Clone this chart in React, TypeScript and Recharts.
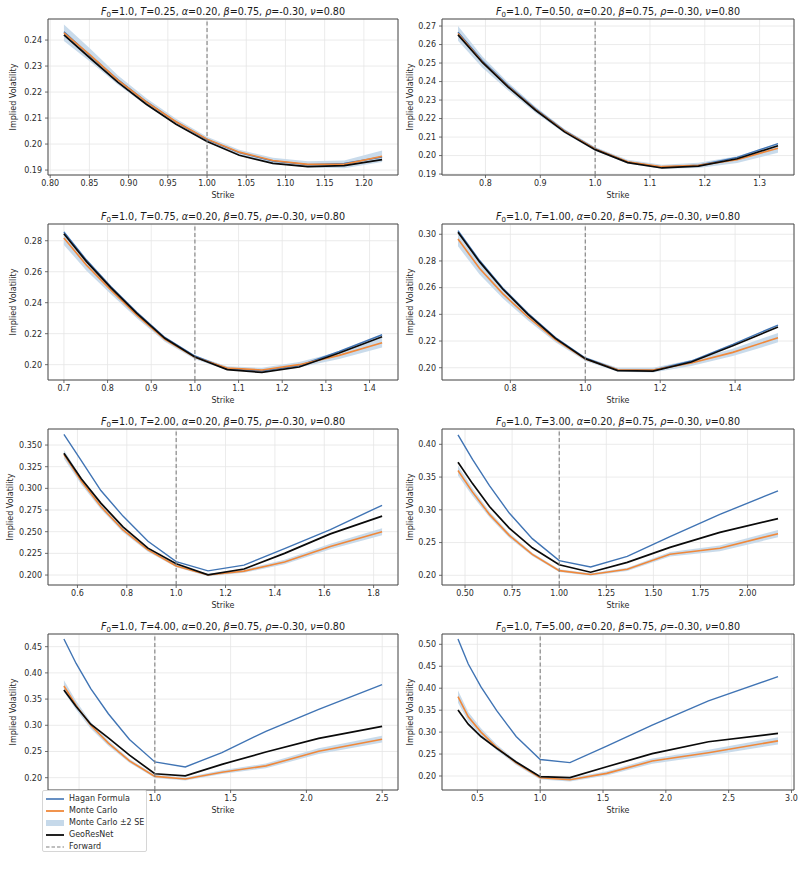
import React from 'react';
import {
  ComposedChart,
  Line,
  Area,
  XAxis,
  YAxis,
  CartesianGrid,
  ReferenceLine,
  ReferenceArea,
} from 'recharts';

const FONT = '"DejaVu Sans", Verdana, sans-serif';

// ---------------- data ----------------
const maturities = ['0.25', '0.50', '0.75', '1.00', '2.00', '3.00', '4.00', '5.00'];

const strikes1 = [0.8175, 0.8511, 0.8861, 0.9226, 0.9605, 1.0, 1.0411, 1.0839, 1.1285, 1.1749, 1.2232];
const hagan1 = [0.2432, 0.234, 0.2248, 0.2163, 0.2085, 0.2017, 0.1967, 0.1935, 0.1921, 0.1925, 0.195];
const mc1 = [0.2428, 0.2342, 0.2247, 0.2162, 0.2086, 0.2019, 0.1969, 0.1937, 0.1922, 0.1922, 0.1953];
const se1 = [0.0032, 0.0025, 0.0018, 0.0014, 0.0011, 0.0009, 0.0009, 0.001, 0.0012, 0.0015, 0.0022];
const geo1 = [0.242, 0.233, 0.2238, 0.2153, 0.2076, 0.201, 0.1957, 0.1926, 0.1913, 0.1917, 0.194];

const strikes2 = [0.7499, 0.7944, 0.8414, 0.8913, 0.9441, 1.0, 1.0593, 1.122, 1.1885, 1.2589, 1.3335];
const hagan2 = [0.2666, 0.2512, 0.2378, 0.2253, 0.2135, 0.2037, 0.1966, 0.1937, 0.1948, 0.199, 0.2065];
const mc2 = [0.266, 0.2505, 0.2373, 0.2248, 0.2132, 0.2036, 0.1967, 0.194, 0.1947, 0.1978, 0.204];
const se2 = [0.004, 0.003, 0.0022, 0.0016, 0.0012, 0.001, 0.001, 0.0011, 0.0014, 0.0018, 0.0025];
const geo2 = [0.2652, 0.2503, 0.237, 0.2245, 0.2128, 0.2032, 0.1962, 0.1933, 0.1943, 0.1983, 0.2053];

const strikes3 = [0.6999, 0.7517, 0.8073, 0.867, 0.9311, 1.0, 1.074, 1.1535, 1.2388, 1.3304, 1.4288];
const hagan3 = [0.2857, 0.2675, 0.2505, 0.2338, 0.2176, 0.2056, 0.1975, 0.196, 0.1993, 0.2085, 0.2193];
const mc3 = [0.2818, 0.2642, 0.2483, 0.232, 0.2163, 0.2047, 0.1978, 0.1966, 0.2, 0.206, 0.2142];
const se3 = [0.0045, 0.0035, 0.0027, 0.002, 0.0015, 0.0012, 0.0012, 0.0014, 0.0018, 0.0024, 0.0032];
const geo3 = [0.2845, 0.2665, 0.2497, 0.2331, 0.217, 0.205, 0.1968, 0.195, 0.1985, 0.2075, 0.218];

const strikes4 = [0.6603, 0.7175, 0.7796, 0.847, 0.9204, 1.0, 1.0865, 1.1806, 1.2828, 1.3938, 1.5144];
const hagan4 = [0.3028, 0.2805, 0.2598, 0.2408, 0.2226, 0.2073, 0.1985, 0.1982, 0.205, 0.2175, 0.232];
const mc4 = [0.2965, 0.2745, 0.2555, 0.238, 0.221, 0.2066, 0.1985, 0.1982, 0.2035, 0.2115, 0.2225];
const se4 = [0.0055, 0.0045, 0.0035, 0.0027, 0.002, 0.0015, 0.0015, 0.0017, 0.0022, 0.0028, 0.0035];
const geo4 = [0.3015, 0.2795, 0.259, 0.24, 0.222, 0.2068, 0.1978, 0.1975, 0.2043, 0.2165, 0.2305];

const strikes5 = [0.5452, 0.6155, 0.6949, 0.7845, 0.8857, 1.0, 1.129, 1.2747, 1.4391, 1.6247, 1.8343];
const hagan5 = [0.3623, 0.332, 0.2975, 0.268, 0.239, 0.2155, 0.2048, 0.2115, 0.2305, 0.2525, 0.2805];
const mc5 = [0.3392, 0.3085, 0.279, 0.252, 0.229, 0.2105, 0.2, 0.2045, 0.215, 0.233, 0.25];
const se5 = [0.005, 0.004, 0.0032, 0.0025, 0.002, 0.0015, 0.0015, 0.002, 0.0025, 0.0032, 0.004];
const geo5 = [0.3405, 0.311, 0.283, 0.2555, 0.231, 0.213, 0.2002, 0.207, 0.225, 0.2475, 0.268];

const strikes6 = [0.4626, 0.5398, 0.6297, 0.7347, 0.8571, 1.0, 1.1667, 1.3612, 1.5881, 1.8528, 2.1615];
const hagan6 = [0.4145, 0.377, 0.337, 0.295, 0.256, 0.2225, 0.2127, 0.229, 0.259, 0.293, 0.329];
const mc6 = [0.36, 0.327, 0.293, 0.261, 0.232, 0.2071, 0.2012, 0.2092, 0.2322, 0.2412, 0.2636];
const se6 = [0.0075, 0.006, 0.0045, 0.0035, 0.0025, 0.002, 0.002, 0.0025, 0.0035, 0.0045, 0.0055];
const geo6 = [0.3725, 0.34, 0.305, 0.272, 0.242, 0.216, 0.2047, 0.2198, 0.2427, 0.2655, 0.2865];

const strikes7 = [0.4001, 0.4806, 0.5772, 0.6932, 0.8326, 1.0, 1.2011, 1.4426, 1.7326, 2.081, 2.4993];
const hagan7 = [0.4646, 0.418, 0.37, 0.322, 0.273, 0.23, 0.2205, 0.248, 0.2885, 0.3305, 0.3775];
const mc7 = [0.375, 0.338, 0.3, 0.266, 0.232, 0.2025, 0.1975, 0.2105, 0.2225, 0.2505, 0.2735];
const se7 = [0.011, 0.0085, 0.0065, 0.005, 0.0035, 0.003, 0.003, 0.0035, 0.0045, 0.0055, 0.0065];
const geo7 = [0.3673, 0.336, 0.302, 0.276, 0.243, 0.2075, 0.2035, 0.2255, 0.249, 0.275, 0.298];

const strikes8 = [0.3457, 0.4275, 0.5287, 0.6539, 0.8086, 1.0, 1.2366, 1.5293, 1.8913, 2.339, 2.8927];
const hagan8 = [0.5122, 0.455, 0.403, 0.349, 0.29, 0.2375, 0.2305, 0.268, 0.316, 0.371, 0.4265];
const mc8 = [0.3807, 0.335, 0.3, 0.265, 0.23, 0.196, 0.1915, 0.206, 0.234, 0.253, 0.28];
const se8 = [0.014, 0.011, 0.0085, 0.0065, 0.005, 0.004, 0.004, 0.005, 0.006, 0.007, 0.008];
const geo8 = [0.3503, 0.318, 0.29, 0.263, 0.232, 0.1985, 0.1965, 0.221, 0.251, 0.278, 0.297];

// tick labels
const xTicks1 = [0.8, 0.85, 0.9, 0.95, 1.0, 1.05, 1.1, 1.15, 1.2];
const yTicks1 = [0.19, 0.2, 0.21, 0.22, 0.23, 0.24];
const xTicks2 = [0.8, 0.9, 1.0, 1.1, 1.2, 1.3];
const yTicks2 = [0.19, 0.2, 0.21, 0.22, 0.23, 0.24, 0.25, 0.26, 0.27];
const xTicks3 = [0.7, 0.8, 0.9, 1.0, 1.1, 1.2, 1.3, 1.4];
const yTicks3 = [0.2, 0.22, 0.24, 0.26, 0.28];
const xTicks4 = [0.8, 1.0, 1.2, 1.4];
const yTicks4 = [0.2, 0.22, 0.24, 0.26, 0.28, 0.3];
const xTicks5 = [0.6, 0.8, 1.0, 1.2, 1.4, 1.6, 1.8];
const yTicks5 = [0.2, 0.225, 0.25, 0.275, 0.3, 0.325, 0.35];
const xTicks6 = [0.5, 0.75, 1.0, 1.25, 1.5, 1.75, 2.0];
const yTicks6 = [0.2, 0.25, 0.3, 0.35, 0.4];
const xTicks7 = [0.5, 1.0, 1.5, 2.0, 2.5];
const yTicks7 = [0.2, 0.25, 0.3, 0.35, 0.4, 0.45];
const xTicks8 = [0.5, 1.0, 1.5, 2.0, 2.5, 3.0];
const yTicks8 = [0.2, 0.25, 0.3, 0.35, 0.4, 0.45, 0.5];
// tick labels hidden under the figure legend in the reference
const hiddenXLabels7 = [0.5];

// ---------------- styling / layout ----------------
const C_HAGAN = '#4074b4';
const C_MC = '#f0883a';
const C_BAND = '#c6d9ea';
const C_GEO = '#0a0a0a';
const C_FWD = '#808080';
const C_AXIS = '#4a4a4a';
const C_TEXT = '#2b2b2b';

const PLOT_TOPS = [19, 224, 429, 634];
const PLOT_H = 156;
const COLS = [
  { chartLeft: 0, plotLeft: 48, plotRight: 398, yLabelX: 14 },
  { chartLeft: 402, plotLeft: 442, plotRight: 794, yLabelX: 411 },
];
const Y_AXIS_W = 30;
const X_AXIS_H = 30;
const TOP_PAD = 10;

type PanelCfg = {
  T: string;
  strikes: number[];
  hagan: number[];
  mc: number[];
  se: number[];
  geo: number[];
  xDomain: [number, number];
  yDomain: [number, number];
  xTicks: number[];
  yTicks: number[];
  xDec: number;
  yDec: number;
  yLabelShift?: number;
  hiddenX?: number[];
};

const panels: PanelCfg[] = [
  { T: maturities[0], strikes: strikes1, hagan: hagan1, mc: mc1, se: se1, geo: geo1, xDomain: [0.7972, 1.2435], yDomain: [0.1881, 0.2481], xTicks: xTicks1, yTicks: yTicks1, xDec: 2, yDec: 2 },
  { T: maturities[1], strikes: strikes2, hagan: hagan2, mc: mc2, se: se2, geo: geo2, xDomain: [0.7207, 1.3627], yDomain: [0.1895, 0.2738], xTicks: xTicks2, yTicks: yTicks2, xDec: 1, yDec: 2 },
  { T: maturities[2], strikes: strikes3, hagan: hagan3, mc: mc3, se: se3, geo: geo3, xDomain: [0.6635, 1.4652], yDomain: [0.1901, 0.2908], xTicks: xTicks3, yTicks: yTicks3, xDec: 1, yDec: 2 },
  { T: maturities[3], strikes: strikes4, hagan: hagan4, mc: mc4, se: se4, geo: geo4, xDomain: [0.6176, 1.5571], yDomain: [0.1908, 0.3077], xTicks: xTicks4, yTicks: yTicks4, xDec: 1, yDec: 2 },
  { T: maturities[4], strikes: strikes5, hagan: hagan5, mc: mc5, se: se5, geo: geo5, xDomain: [0.4807, 1.8988], yDomain: [0.1885, 0.3685], xTicks: xTicks5, yTicks: yTicks5, xDec: 1, yDec: 3, yLabelShift: -3 },
  { T: maturities[5], strikes: strikes6, hagan: hagan6, mc: mc6, se: se6, geo: geo6, xDomain: [0.3777, 2.2464], yDomain: [0.1852, 0.4234], xTicks: xTicks6, yTicks: yTicks6, xDec: 2, yDec: 2 },
  { T: maturities[6], strikes: strikes7, hagan: hagan7, mc: mc7, se: se7, geo: geo7, xDomain: [0.2951, 2.6043], yDomain: [0.1765, 0.4742], xTicks: xTicks7, yTicks: yTicks7, xDec: 1, yDec: 2, hiddenX: hiddenXLabels7 },
  { T: maturities[7], strikes: strikes8, hagan: hagan8, mc: mc8, se: se8, geo: geo8, xDomain: [0.2184, 3.02], yDomain: [0.1681, 0.5235], xTicks: xTicks8, yTicks: yTicks8, xDec: 1, yDec: 2 },
];

const tickStyle = { fontSize: 8, fill: C_TEXT, fontFamily: FONT };

function Title({ T }: { T: string }) {
  const it: React.CSSProperties = { fontStyle: 'italic' };
  return (
    <span>
      <span style={it}>F</span>
      <span style={{ fontSize: 7, position: 'relative', top: 2 }}>0</span>=1.0,{' '}
      <span style={it}>T</span>={T}, <span style={it}>α</span>=0.20,{' '}
      <span style={it}>β</span>=0.75, <span style={it}>ρ</span>=-0.30,{' '}
      <span style={it}>ν</span>=0.80
    </span>
  );
}

function Panel({ cfg, index }: { cfg: PanelCfg; index: number }) {
  const row = Math.floor(index / 2);
  const col = COLS[index % 2];
  const plotTop = PLOT_TOPS[row];
  const chartTop = plotTop - TOP_PAD;
  const chartW = 402;
  const chartH = TOP_PAD + PLOT_H + X_AXIS_H;
  const plotW = col.plotRight - col.plotLeft;
  const hidden = cfg.hiddenX || [];

  const rows = cfg.strikes.map((k, i) => ({
    k,
    hagan: cfg.hagan[i],
    mc: cfg.mc[i],
    geo: cfg.geo[i],
    band: [cfg.mc[i] - cfg.se[i], cfg.mc[i] + cfg.se[i]],
  }));

  return (
    <>
      <div style={{ position: 'absolute', left: col.chartLeft, top: chartTop }}>
        <ComposedChart
          width={chartW}
          height={chartH}
          data={rows}
          margin={{
            top: TOP_PAD,
            bottom: 0,
            left: col.plotLeft - col.chartLeft - Y_AXIS_W,
            right: col.chartLeft + chartW - col.plotRight,
          }}
        >
          <CartesianGrid stroke="#e6e6e6" strokeWidth={0.8} />
          <XAxis
            type="number"
            dataKey="k"
            domain={cfg.xDomain}
            ticks={cfg.xTicks}
            interval={0}
            allowDataOverflow
            height={X_AXIS_H}
            axisLine={false}
            tickLine={{ stroke: C_AXIS, strokeWidth: 0.8 }}
            tickSize={3}
            tickMargin={2}
            tick={tickStyle}
            tickFormatter={(v: number) => (hidden.some((h) => Math.abs(h - v) < 1e-9) ? '' : v.toFixed(cfg.xDec))}
          />
          <YAxis
            type="number"
            domain={cfg.yDomain}
            ticks={cfg.yTicks}
            interval={0}
            allowDataOverflow
            width={Y_AXIS_W}
            axisLine={false}
            tickLine={{ stroke: C_AXIS, strokeWidth: 0.8 }}
            tickSize={3}
            tickMargin={3}
            tick={tickStyle}
            tickFormatter={(v: number) => v.toFixed(cfg.yDec)}
          />
          <Area
            type="linear"
            dataKey="band"
            stroke="none"
            fill={C_BAND}
            fillOpacity={0.95}
            isAnimationActive={false}
            activeDot={false}
          />
          <Line type="linear" dataKey="hagan" stroke={C_HAGAN} strokeWidth={1.4} dot={false} isAnimationActive={false} />
          <Line type="linear" dataKey="mc" stroke={C_MC} strokeWidth={1.6} dot={false} isAnimationActive={false} />
          <Line type="linear" dataKey="geo" stroke={C_GEO} strokeWidth={1.7} dot={false} isAnimationActive={false} />
          <ReferenceLine x={1} stroke={C_FWD} strokeWidth={1.1} strokeDasharray="4 2.5" />
          <ReferenceArea
            x1={cfg.xDomain[0]}
            x2={cfg.xDomain[1]}
            y1={cfg.yDomain[0]}
            y2={cfg.yDomain[1]}
            fill="none"
            fillOpacity={0}
            stroke={C_AXIS}
            strokeWidth={1}
            ifOverflow="visible"
          />
        </ComposedChart>
      </div>
      {/* title */}
      <div
        style={{
          position: 'absolute',
          left: col.plotLeft,
          width: plotW,
          top: plotTop - 12.5,
          lineHeight: '10px',
          fontSize: 9.6,
          fontFamily: FONT,
          color: '#1a1a1a',
          textAlign: 'center',
          whiteSpace: 'nowrap',
        }}
      >
        <Title T={cfg.T} />
      </div>
      {/* x label */}
      <div
        style={{
          position: 'absolute',
          left: col.plotLeft,
          width: plotW,
          top: plotTop + PLOT_H + 15.5,
          lineHeight: '10px',
          fontSize: 8,
          fontFamily: FONT,
          color: C_TEXT,
          textAlign: 'center',
        }}
      >
        Strike
      </div>
      {/* y label */}
      <div
        style={{
          position: 'absolute',
          left: col.yLabelX + (cfg.yLabelShift || 0) - 50,
          width: 100,
          top: plotTop + PLOT_H / 2 - 5,
          lineHeight: '10px',
          fontSize: 8,
          fontFamily: FONT,
          color: C_TEXT,
          textAlign: 'center',
          transform: 'rotate(-90deg)',
          whiteSpace: 'nowrap',
        }}
      >
        Implied Volatility
      </div>
    </>
  );
}

const legendItems = [
  { label: 'Hagan Formula', kind: 'line', color: C_HAGAN, w: 1.6 },
  { label: 'Monte Carlo', kind: 'line', color: C_MC, w: 1.8 },
  { label: 'Monte Carlo ±2 SE', kind: 'patch', color: C_BAND, w: 0 },
  { label: 'GeoResNet', kind: 'line', color: C_GEO, w: 1.8 },
  { label: 'Forward', kind: 'dash', color: C_FWD, w: 1.1 },
];

function FigureLegend() {
  return (
    <div
      style={{
        position: 'absolute',
        left: 42,
        top: 790,
        width: 105,
        height: 62,
        background: 'rgba(255,255,255,0.92)',
        border: '1px solid #d6d6d6',
        borderRadius: 2,
        boxSizing: 'border-box',
        fontFamily: FONT,
        fontSize: 8,
        color: C_TEXT,
      }}
    >
      {legendItems.map((it, i) => (
        <div
          key={it.label}
          style={{ position: 'absolute', left: 0, top: 2 + i * 12, height: 12, width: 104, whiteSpace: 'nowrap' }}
        >
          <svg width={22} height={12} style={{ position: 'absolute', left: 2, top: 0 }}>
            {it.kind === 'line' && <line x1={1} x2={19} y1={6} y2={6} stroke={it.color} strokeWidth={it.w} />}
            {it.kind === 'dash' && (
              <line x1={1} x2={19} y1={6} y2={6} stroke={it.color} strokeWidth={it.w} strokeDasharray="3.5 2" />
            )}
            {it.kind === 'patch' && <rect x={1} y={3} width={18} height={6} fill={it.color} />}
          </svg>
          <span style={{ position: 'absolute', left: 26, top: 1, lineHeight: '10px' }}>{it.label}</span>
        </div>
      ))}
    </div>
  );
}

export default function App() {
  return (
    <div
      style={{
        position: 'absolute',
        left: 0,
        top: 0,
        width: 804,
        height: 883,
        background: '#ffffff',
        overflow: 'hidden',
      }}
    >
      {panels.map((p, i) => (
        <Panel key={i} cfg={p} index={i} />
      ))}
      <FigureLegend />
    </div>
  );
}
